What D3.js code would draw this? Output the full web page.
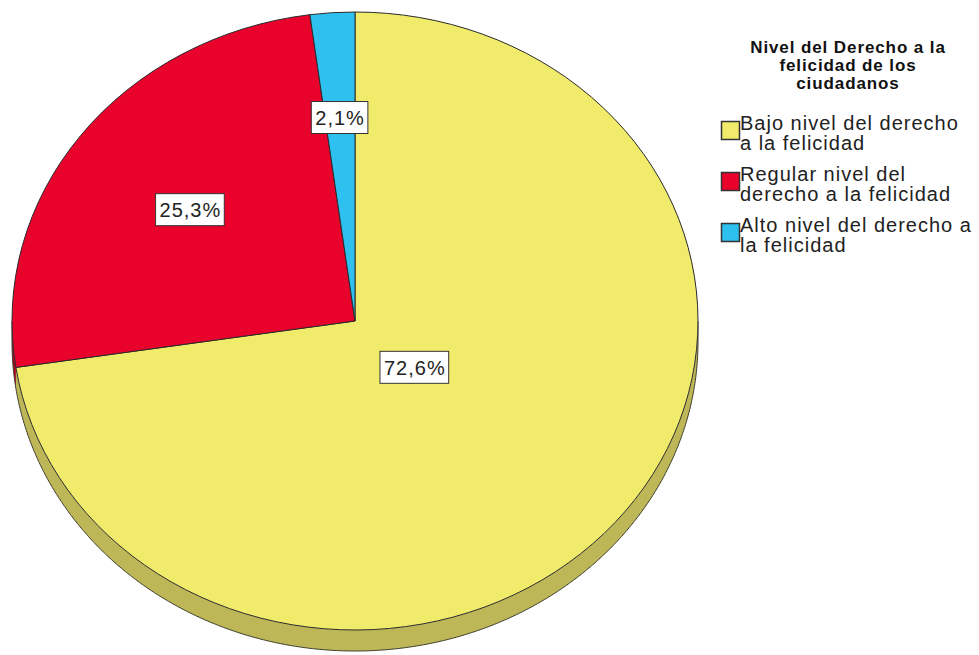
<!DOCTYPE html>
<html>
<head>
<meta charset="utf-8">
<script src="https://cdn.jsdelivr.net/npm/d3@7"></script>
<style>
  body { margin: 0; background: #fff; }
  svg { display: block; font-family: "Liberation Sans", Arial, sans-serif; }
</style>
</head>
<body>
<svg id="chart" width="979" height="655"></svg>
<script>
const width = 979;
const height = 655;

// Data
const categories = [
    "Bajo nivel del derecho a la felicidad",
    "Regular nivel del derecho a la felicidad",
    "Alto nivel del derecho a la felicidad"
];
const legendLines = [
    ["Bajo nivel del derecho", "a la felicidad"],
    ["Regular nivel del", "derecho a la felicidad"],
    ["Alto nivel del derecho a", "la felicidad"]
];
const percents = [72.6, 25.3, 2.1];
const percentLabels = ["72,6%", "25,3%", "2,1%"];
const legendTitle = ["Nivel del Derecho a la", "felicidad de los", "ciudadanos"];

// Styles
const colors = ["#f1eb6c", "#e8022c", "#2ec0ef"];
const sideColors = ["#bdb757", "#a8001f", "#1f8fb3"];
const labelRadius = [0.23, 0.6, 0.66];

const cx = 355, cy = 321, rx = 343, ry = 309, depth = 21;

const svg = d3.select("#chart");

const pie = d3.pie().sort(null).value(d => d);
const arcs = pie(percents);

const pt = (a, dy = 0) => [cx + rx * Math.sin(a), cy - ry * Math.cos(a) + dy];
const line = d3.line();

// Side (3D depth) for front-facing part of each slice
arcs.forEach((d, i) => {
    const a0 = Math.max(d.startAngle, Math.PI / 2);
    const a1 = Math.min(d.endAngle, 3 * Math.PI / 2);
    if (a0 >= a1) return;
    const angles = d3.range(a0, a1, 0.005).concat([a1]);
    const top = angles.map(a => pt(a));
    const bottom = angles.map(a => pt(a, depth)).reverse();
    svg.append("path")
        .attr("d", line(top.concat(bottom)) + "Z")
        .attr("fill", sideColors[i]);
    svg.append("path")
        .attr("d", line(angles.map(a => pt(a, depth))))
        .attr("fill", "none")
        .attr("stroke", "#3a3a2a")
        .attr("stroke-width", 1);
});

// Side vertical edges at the extremes
[Math.PI / 2, 3 * Math.PI / 2].forEach(a => {
    svg.append("line")
        .attr("x1", pt(a)[0]).attr("y1", pt(a)[1])
        .attr("x2", pt(a, depth)[0]).attr("y2", pt(a, depth)[1])
        .attr("stroke", "#3a3a2a").attr("stroke-width", 1);
});

// Top face
const arc = d3.arc().innerRadius(0).outerRadius(rx);
svg.append("g")
    .attr("transform", `translate(${cx},${cy}) scale(1,${ry / rx})`)
    .selectAll("path")
    .data(arcs)
    .join("path")
    .attr("d", arc)
    .attr("fill", (d, i) => colors[i])
    .attr("stroke", "#2a2a2a")
    .attr("stroke-width", 1)
    .attr("vector-effect", "non-scaling-stroke");

// Percent labels
arcs.forEach((d, i) => {
    const mid = (d.startAngle + d.endAngle) / 2;
    const x = cx + rx * labelRadius[i] * Math.sin(mid);
    const y = cy - ry * labelRadius[i] * Math.cos(mid);
    const g = svg.append("g").attr("transform", `translate(${x},${y})`);
    const t = g.append("text")
        .attr("text-anchor", "middle")
        .attr("dy", "0.36em")
        .attr("font-size", 20)
        .attr("letter-spacing", 1)
        .attr("fill", "#222")
        .text(percentLabels[i]);
    const w = t.node().getComputedTextLength();
    g.insert("rect", "text")
        .attr("x", -w / 2 - 4).attr("y", -16)
        .attr("width", w + 7).attr("height", 32)
        .attr("fill", "#fff")
        .attr("stroke", "#333")
        .attr("stroke-width", 1);
});

// Legend
const legend = svg.append("g");
legend.selectAll("text.title")
    .data(legendTitle)
    .join("text")
    .attr("class", "title")
    .attr("x", 848)
    .attr("y", (d, i) => 53 + i * 18)
    .attr("text-anchor", "middle")
    .attr("font-size", 17)
    .attr("font-weight", "bold")
    .attr("letter-spacing", 0.9)
    .attr("fill", "#111")
    .text(d => d);

categories.forEach((c, i) => {
    const top = 121 + i * 51;
    legend.append("rect")
        .attr("x", 721.5).attr("y", top + 0.5)
        .attr("width", 18).attr("height", 18)
        .attr("fill", colors[i])
        .attr("stroke", "#333")
        .attr("stroke-width", 1.5);
    legendLines[i].forEach((l, j) => {
        legend.append("text")
            .attr("x", 740)
            .attr("y", top + 9 + j * 20)
            .attr("font-size", 20)
            .attr("letter-spacing", 1)
            .attr("fill", "#222")
            .text(l);
    });
});
</script>
</body>
</html>
